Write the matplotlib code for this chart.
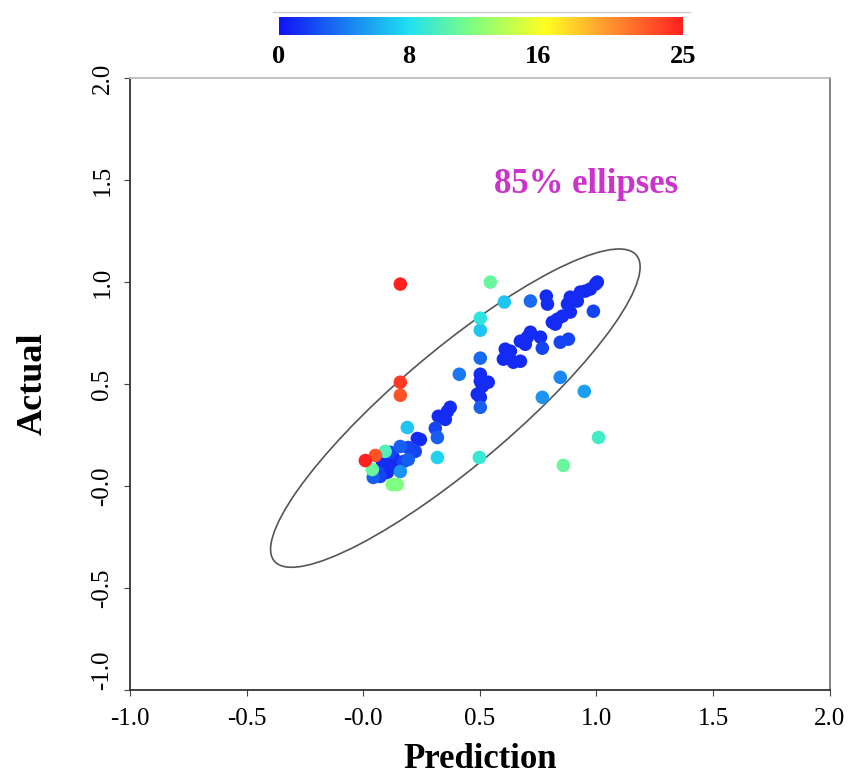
import matplotlib
matplotlib.use("Agg")
from matplotlib import pyplot as plt
from matplotlib.colors import LinearSegmentedColormap
from matplotlib.patches import Ellipse
from matplotlib.lines import Line2D
import numpy as np

# prediction, actual, colour value (0-25) for each point
pred = [0.159, 0.159, 0.159, 0.545, 0.605, 0.502, 0.502, 0.502, 0.412, 0.717,
        0.768, 0.845, 0.948, 1.009, 0.858, 0.498, 0.318, 0.189, 0.009, 0.052,
        0.094, 0.124, 0.146, 0.039, 0.159,
        0.232, 0.223, 0.193, 0.159, 0.129, 0.107, 0.086, 0.064, 0.043, 0.193,
        0.146, 0.103, 0.073, 0.129, 0.172, 0.082, 0.116,
        0.502, 0.502, 0.536, 0.511, 0.489, 0.502, 0.502, 0.373, 0.361, 0.322,
        0.352, 0.309, 0.318, 0.245,
        0.785, 0.790, 0.888, 0.876, 0.918, 0.931, 0.953, 0.974, 0.996, 1.004,
        0.987, 0.888, 0.854, 0.833, 0.811, 0.824, 0.760, 0.717, 0.704, 0.674,
        0.695, 0.768, 0.845, 0.880, 0.631, 0.609, 0.601, 0.644, 0.674]
actual = [0.990, 0.509, 0.445, 1.000, 0.902, 0.823, 0.764, 0.627, 0.548, 0.907,
          0.435, 0.533, 0.464, 0.238, 0.101, 0.140, 0.140, 0.287, 0.125, 0.150,
          0.170, 0.007, 0.007, 0.081, 0.071,
          0.233, 0.170, 0.189, 0.194, 0.140, 0.115, 0.091, 0.066, 0.042, 0.130,
          0.115, 0.066, 0.047, 0.096, 0.120, 0.120, 0.165,
          0.548, 0.514, 0.509, 0.489, 0.450, 0.435, 0.386, 0.386, 0.366, 0.342,
          0.327, 0.283, 0.238, 0.228,
          0.931, 0.892, 0.926, 0.892, 0.907, 0.951, 0.956, 0.966, 0.990, 1.000,
          0.857, 0.853, 0.833, 0.818, 0.803, 0.794, 0.730, 0.754, 0.730, 0.710,
          0.695, 0.676, 0.705, 0.720, 0.661, 0.671, 0.622, 0.607, 0.612]
value = [25, 24, 23, 11, 7, 8.5, 7, 3.5, 4, 3.5,
         5, 4.5, 5.5, 9.5, 11, 9, 7.5, 7, 25, 23,
         10, 12, 12, 11, 5,
         1, 2, 2, 3, 1, 1, 1, 2, 3, 3,
         1, 1, 2, 1, 2, 1, 2,
         1, 1, 1, 1, 1, 1, 3, 1, 1, 1,
         1, 2, 3, 1,
         1, 1, 1, 1, 1, 1, 1, 1, 1, 1,
         2, 1, 1, 1, 1, 1, 1, 1, 1, 1,
         1, 2, 2, 2, 1, 1, 1, 1, 1]

# 85% ellipse: centre, full width/height, angle
ell_center = (0.395, 0.382)
ell_width = 2.16
ell_height = 0.53
ell_angle = 44.5

xticks = [-1.0, -0.5, 0.0, 0.5, 1.0, 1.5, 2.0]
xticklabels = ["-1.0", "-0.5", "-0.0", "0.5", "1.0", "1.5", "2.0"]
yticks = [-1.0, -0.5, 0.0, 0.5, 1.0, 1.5, 2.0]
yticklabels = ["-1.0", "-0.5", "-0.0", "0.5", "1.0", "1.5", "2.0"]
cbar_ticks = [0, 8, 16, 25]

plt.rcParams['font.family'] = ['Liberation Serif', 'DejaVu Serif']

cmap = LinearSegmentedColormap.from_list(
    "bar", [(0.0, "#1212f5"), (0.32, "#20e0f0"), (0.48, "#80ff80"),
            (0.66, "#ffff20"), (0.8, "#ffa030"), (1.0, "#ff2020")])

fig = plt.figure(figsize=(8.5, 7.81), dpi=100)
ax = fig.add_axes([0.153, 0.1165, 0.823, 0.7835])

order = np.argsort(value)
sc = ax.scatter(np.array(pred)[order], np.array(actual)[order],
                c=np.array(value)[order], cmap=cmap, vmin=0, vmax=25,
                s=95, edgecolors='none', zorder=3)

ax.add_patch(Ellipse(ell_center, ell_width, ell_height, angle=ell_angle,
                     fill=False, edgecolor='#555555', lw=1.2, zorder=2))

ax.text(0.562, 1.477, "85% ellipses", color='#cc33cc', fontsize=25,
        fontweight='bold', va='center', ha='left')

ax.set_xlim(-1.0, 2.0)
ax.set_ylim(-1.0, 2.0)
ax.set_xticks(xticks)
ax.set_xticklabels(xticklabels, fontsize=18)
ax.set_yticks(yticks)
ax.set_yticklabels(yticklabels, fontsize=18, rotation=90, va='center')
ax.get_yticklabels()[0].set_va('bottom')
ax.tick_params(direction='out', length=4, color='#444444')
ax.tick_params(axis='x', pad=9)
ax.tick_params(axis='y', pad=8)

ax.set_xlabel("Prediction", fontsize=25, fontweight='bold', labelpad=9)
ax.set_ylabel("Actual", fontsize=26, fontweight='bold', labelpad=30)

ax.spines['left'].set_color('#333333')
ax.spines['bottom'].set_color('#333333')
ax.spines['right'].set_color('#777777')
ax.spines['top'].set_color('#bbbbbb')
for s in ax.spines.values():
    s.set_linewidth(1.3)

cax = fig.add_axes([0.328, 0.955, 0.476, 0.023])
cb = fig.colorbar(sc, cax=cax, orientation='horizontal', ticks=cbar_ticks)
cb.outline.set_visible(False)
cax.tick_params(length=0, pad=7)
for lab in cax.get_xticklabels():
    lab.set_fontsize(19)
    lab.set_fontweight('bold')

fig.add_artist(Line2D([0.321, 0.812], [0.985, 0.985], color='#cccccc',
                      lw=1.0, transform=fig.transFigure))

fig.savefig("out.png", dpi=100)
